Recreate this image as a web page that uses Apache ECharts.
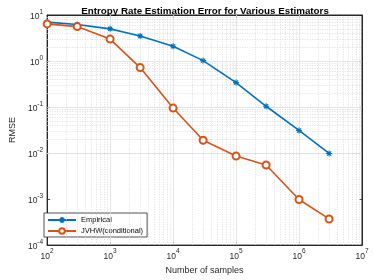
<!DOCTYPE html>
<html><head><meta charset="utf-8">
<script src="https://cdn.jsdelivr.net/npm/echarts@6/dist/echarts.min.js"></script>
<style>html,body{margin:0;padding:0;background:#fff}#c{width:374px;height:280px}</style>
</head><body><div id="c"></div>
<script>
var samples = [100, 300, 1000, 3000, 10000, 30000, 100000, 300000, 1000000, 3000000];
var empirical = [7.0, 6.2, 5.0, 3.5, 2.1, 1.02, 0.34, 0.104, 0.031, 0.0098];
var jvhw = [6.4, 5.6, 3.0, 0.72, 0.095, 0.019, 0.0086, 0.0055, 0.00098, 0.00037];
var seriesNames = ['Empirical', 'JVHW(conditional)'];
var titleText = 'Entropy Rate Estimation Error for Various Estimators';
var xName = 'Number of samples';
var yName = 'RMSE';
var xRange = [1e2, 1e7];
var yRange = [1e-4, 1e1];

function minors(lo, hi) {
  var out = [];
  for (var e = Math.round(Math.log10(lo)); e < Math.round(Math.log10(hi)); e++) {
    for (var k = 2; k <= 9; k++) out.push(k * Math.pow(10, e));
  }
  return out;
}
function majors(lo, hi) {
  var out = [];
  for (var e = Math.round(Math.log10(lo)) + 1; e < Math.round(Math.log10(hi)); e++) out.push(Math.pow(10, e));
  return out;
}
var FONT = '"Liberation Sans", Arial, sans-serif';
var AX = '#262626';
function fmt(v) {
  var e = Math.round(Math.log10(v));
  return '{b|10}{s|' + e + '}';
}
var rich = {
  b: {fontSize: 8.5, fontFamily: FONT, color: AX, verticalAlign: 'bottom', lineHeight: 13, padding: [4,0,0,0]},
  s: {fontSize: 6.5, fontFamily: FONT, color: AX, verticalAlign: 'top', lineHeight: 13}
};
var minorX = minors(xRange[0], xRange[1]).map(function (v) { return {xAxis: v}; });
var minorY = minors(yRange[0], yRange[1]).map(function (v) { return {yAxis: v}; });
var majorX = majors(xRange[0], xRange[1]).map(function (v) { return {xAxis: v}; });
var majorY = majors(yRange[0], yRange[1]).map(function (v) { return {yAxis: v}; });

var star = 'path://M0,-10L0,10M-10,0L10,0M-7,-7L7,7M-7,7L7,-7';

var chart = echarts.init(document.getElementById('c'), null, {renderer: 'canvas'});
var baseAxis = function (pos, showLabel) {
  return {
    position: pos,
    axisLine: {show: true, lineStyle: {color: AX, width: 1}},
    axisTick: {show: true, inside: true, length: 3, lineStyle: {color: AX, width: 0.8}},
    axisLabel: {show: showLabel, formatter: fmt, rich: rich},
    splitLine: {show: false}
  };
};
var xb = Object.assign({type: 'log', logBase: 10, min: xRange[0], max: xRange[1], name: xName, nameLocation: 'middle', nameGap: 20,
  nameTextStyle: {fontSize: 9, fontFamily: FONT, color: AX}}, baseAxis('bottom', true));
xb.axisLabel.margin = 3;
var xt = Object.assign({type: 'log', logBase: 10, min: xRange[0], max: xRange[1]}, baseAxis('top', false));
var yl = Object.assign({type: 'log', logBase: 10, min: yRange[0], max: yRange[1], name: yName, nameLocation: 'middle', nameGap: 24,
  nameTextStyle: {fontSize: 9, fontFamily: FONT, color: AX}}, baseAxis('left', true));
yl.axisLabel.margin = 4;
var yr = Object.assign({type: 'log', logBase: 10, min: yRange[0], max: yRange[1]}, baseAxis('right', false));

chart.setOption({
  animation: false,
  backgroundColor: '#fff',
  title: {text: titleText, left: 200, top: 1, textAlign: 'center',
    textStyle: {fontSize: 9.8, fontWeight: 'bold', fontFamily: FONT, color: '#000'}},
  grid: {left: 36, right: 12, top: 15, bottom: 29, show: true, borderColor: AX, borderWidth: 1, backgroundColor: '#fff'},
  xAxis: [xb, xt],
  yAxis: [yl, yr],
  legend: {
    orient: 'vertical', left: 44, top: 213, padding: [3, 4, 2, 3], itemGap: 3,
    itemWidth: 28, itemHeight: 7,
    backgroundColor: '#fff', borderColor: AX, borderWidth: 0.8,
    textStyle: {fontSize: 7.5, fontFamily: FONT, color: '#000'},
    data: seriesNames
  },
  series: [
    {
      name: 'grid', type: 'line', data: [], silent: true,
      markLine: {silent: true, symbol: 'none', label: {show: false}, animation: false,
        lineStyle: {color: '#d6d6d6', type: [1, 1.5], width: 0.8},
        data: minorX.concat(minorY)}
    },
    {
      name: 'grid2', type: 'line', data: [], silent: true,
      markLine: {silent: true, symbol: 'none', label: {show: false}, animation: false,
        lineStyle: {color: '#dedede', type: 'solid', width: 0.8},
        data: majorX.concat(majorY)}
    },
    {
      name: seriesNames[0], type: 'line', xAxisIndex: 0, yAxisIndex: 0,
      data: samples.map(function (x, i) { return [x, empirical[i]]; }),
      symbol: star, symbolSize: 6,
      lineStyle: {color: '#0072BD', width: 1.6},
      itemStyle: {color: '#0072BD', borderColor: '#0072BD', borderWidth: 1.1},
      z: 5
    },
    {
      name: seriesNames[1], type: 'line', xAxisIndex: 0, yAxisIndex: 0,
      data: samples.map(function (x, i) { return [x, jvhw[i]]; }),
      symbol: 'emptyCircle', symbolSize: 7,
      lineStyle: {color: '#D95319', width: 1.6},
      itemStyle: {color: '#D95319', borderColor: '#D95319', borderWidth: 1.5},
      z: 5
    }
  ]
});
</script>
</body></html>
